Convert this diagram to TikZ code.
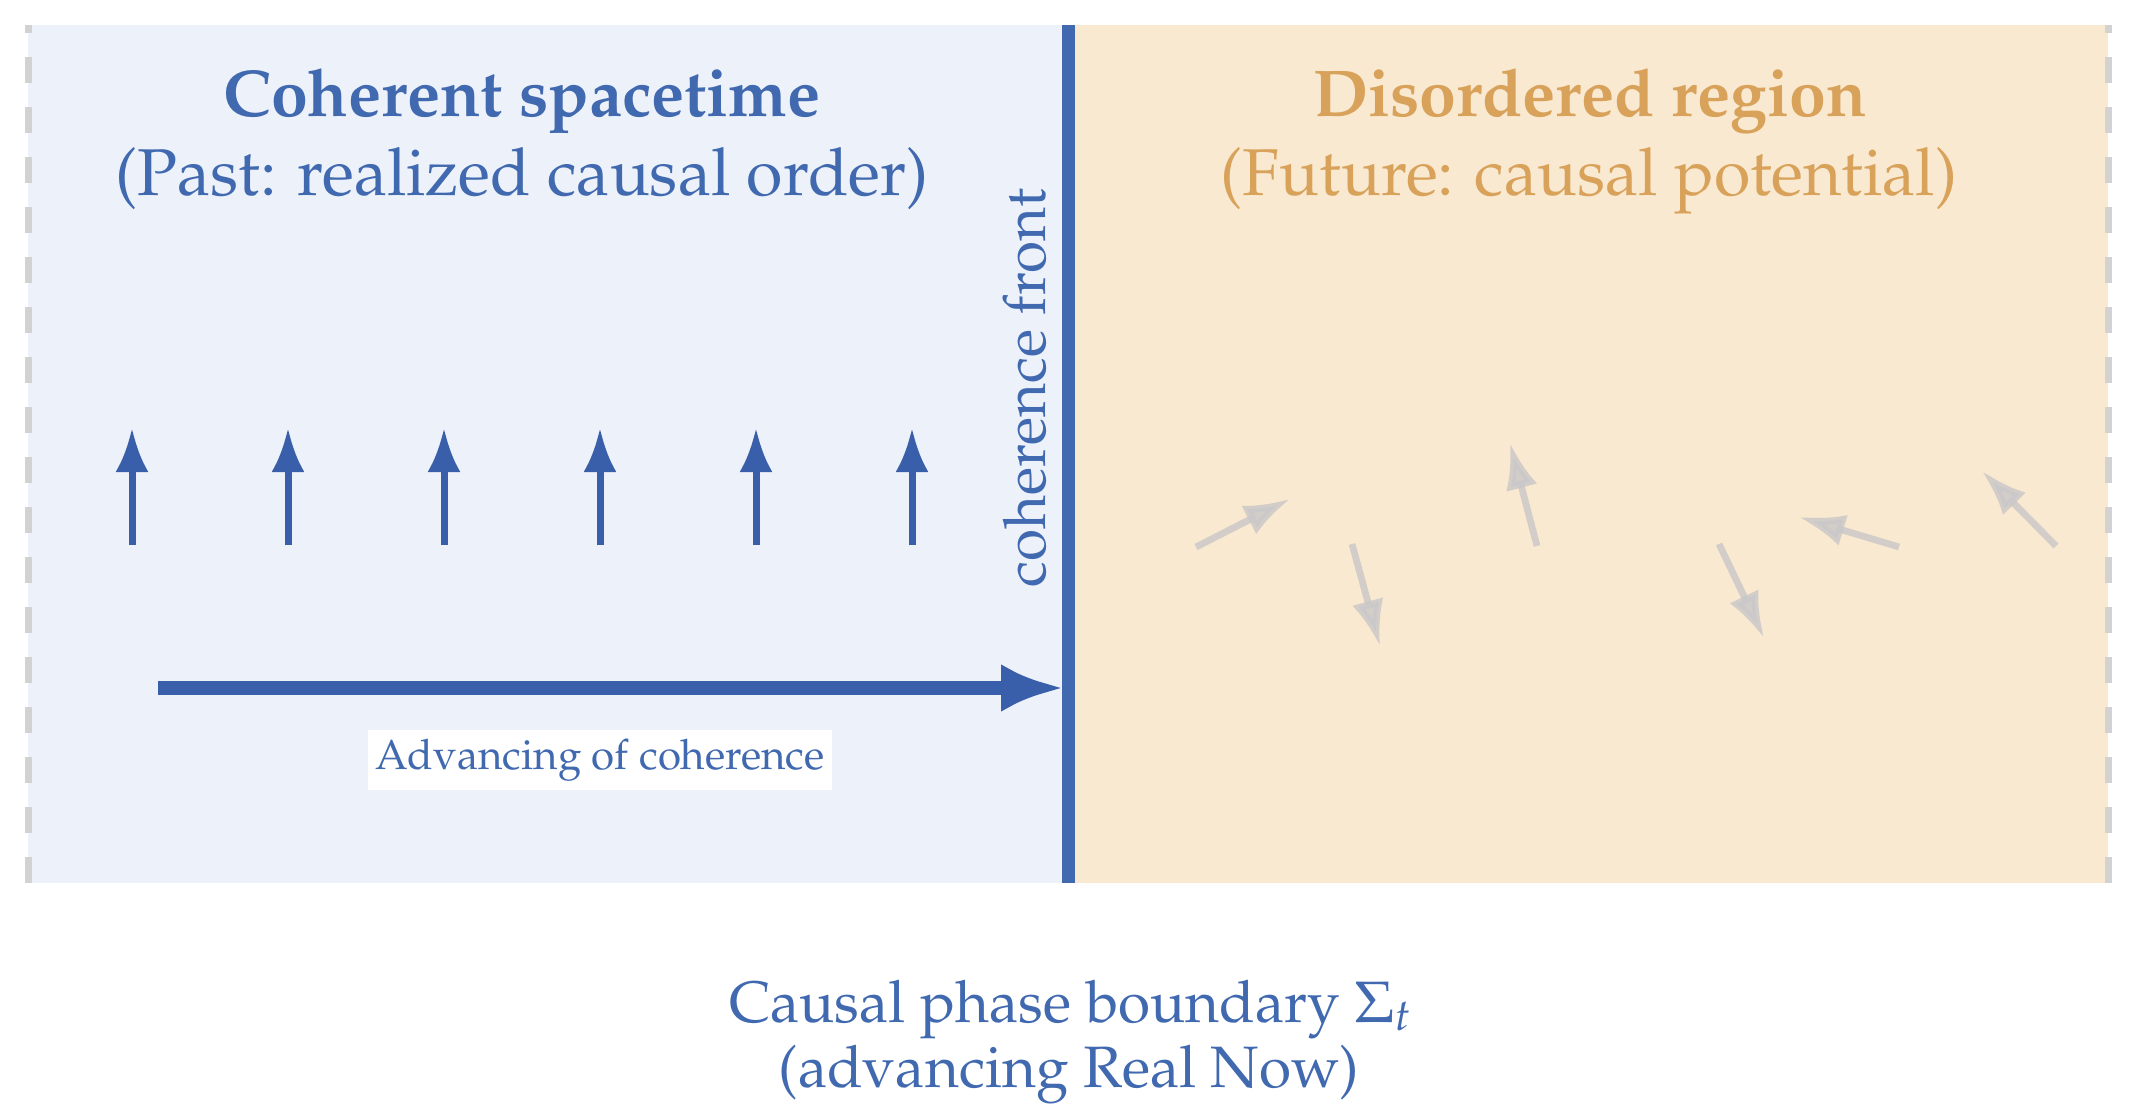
\documentclass[tikz,border=0pt]{standalone}
\usepackage[T1]{fontenc}
\usepackage{mathpazo}
\usetikzlibrary{arrows.meta}
\definecolor{txtblue}{RGB}{65,105,176}
\definecolor{arrblue}{RGB}{58,95,170}
\definecolor{txtorange}{RGB}{217,162,90}
\definecolor{leftfill}{RGB}{237,242,250}
\definecolor{rightfill}{RGB}{250,233,209}
\definecolor{dashgray}{RGB}{210,210,210}
\definecolor{arrgray}{RGB}{200,199,200}
\tikzset{
  titlefont/.style={font=\fontsize{16.55}{20}\selectfont\bfseries},
  subfont/.style={font=\fontsize{16.55}{20}\selectfont},
  capfont/.style={font=\fontsize{14.6}{18}\selectfont},
  uparrow/.style={draw=arrblue, line width=1.75pt, -{Latex[length=11pt,width=8.25pt]}},
  grayarrow/.style={draw=arrgray, line width=1.7pt, opacity=0.8, -{Latex[length=11.5pt,width=8pt]}},
  edgedash/.style={draw=dashgray, line width=1.75pt, dash pattern=on 6.4pt off 6.1pt},
}
\begin{document}
\begin{tikzpicture}[x=0.25pt,y=-0.25pt]
\useasboundingbox (0,0) rectangle (2143,1112);
% panels
\fill[leftfill] (28,25) rectangle (1068,883);
\fill[rightfill] (1068,25) rectangle (2108,883);
% dashed side borders
\coordinate (lb) at (28.5,883); \coordinate (lt) at (28.5,25);
\coordinate (rb) at (2108,883); \coordinate (rt) at (2108,25);
\draw[edgedash] (lb) -- (lt);
\draw[edgedash] (rb) -- (rt);
% coherence front
\coordinate (ft) at (1068,25); \coordinate (fb) at (1068,883);
\draw[txtblue, line width=3.25pt] (ft) -- (fb);
% titles
\node[titlefont, text=txtblue, anchor=base] (tl) at (522,117) {Coherent spacetime};
\node[subfont, text=txtblue, anchor=base] (sl) at (522,196) {(Past: realized causal order)};
\node[titlefont, text=txtorange, anchor=base] (tr) at (1590,117) {Disordered region};
\node[subfont, text=txtorange, anchor=base] (sr) at (1589,196) {(Future: causal potential)};
% coherence front label
\node[font=\fontsize{14.6}{18}\selectfont, text=txtblue, rotate=90, anchor=base] (fl) at (1045,388) {coherence front};
% upward arrows
\foreach \i/\x in {1/132,2/288,3/444,4/600,5/756,6/912}{
  \coordinate (ua\i) at (\x,545); \coordinate (ub\i) at (\x,428);
  \draw[uparrow] (ua\i) -- (ub\i);
}
% advancing arrow
\coordinate (as) at (158,688); \coordinate (ae) at (1064,688);
\draw[draw=arrblue, line width=3.5pt, -{Latex[length=15.75pt,width=12pt]}] (as) -- (ae);
\node[fill=white, inner xsep=1.8pt, inner ysep=2.2pt, font=\fontsize{10.5}{12}\selectfont, text=txtblue, anchor=base] (al) at (600,769) {Advancing of coherence};
% disordered arrows
\foreach \i/\a/\b/\c/\d in {1/1196/547/1290/499, 2/1352/544/1380/646, 3/1537/546/1510/443, 4/1719/544/1764/638, 5/1899/547/1799/517, 6/2056/546/1982/471}{
  \coordinate (ga\i) at (\a,\b); \coordinate (gb\i) at (\c,\d);
  \draw[grayarrow] (ga\i) -- (gb\i);
}
% caption
\node[capfont, text=txtblue, anchor=base] (c1) at (1071,1022) {Causal phase boundary $\Sigma_t$};
\node[capfont, text=txtblue, anchor=base] (c2) at (1069,1087) {(advancing Real Now)};
\end{tikzpicture}
\end{document}
